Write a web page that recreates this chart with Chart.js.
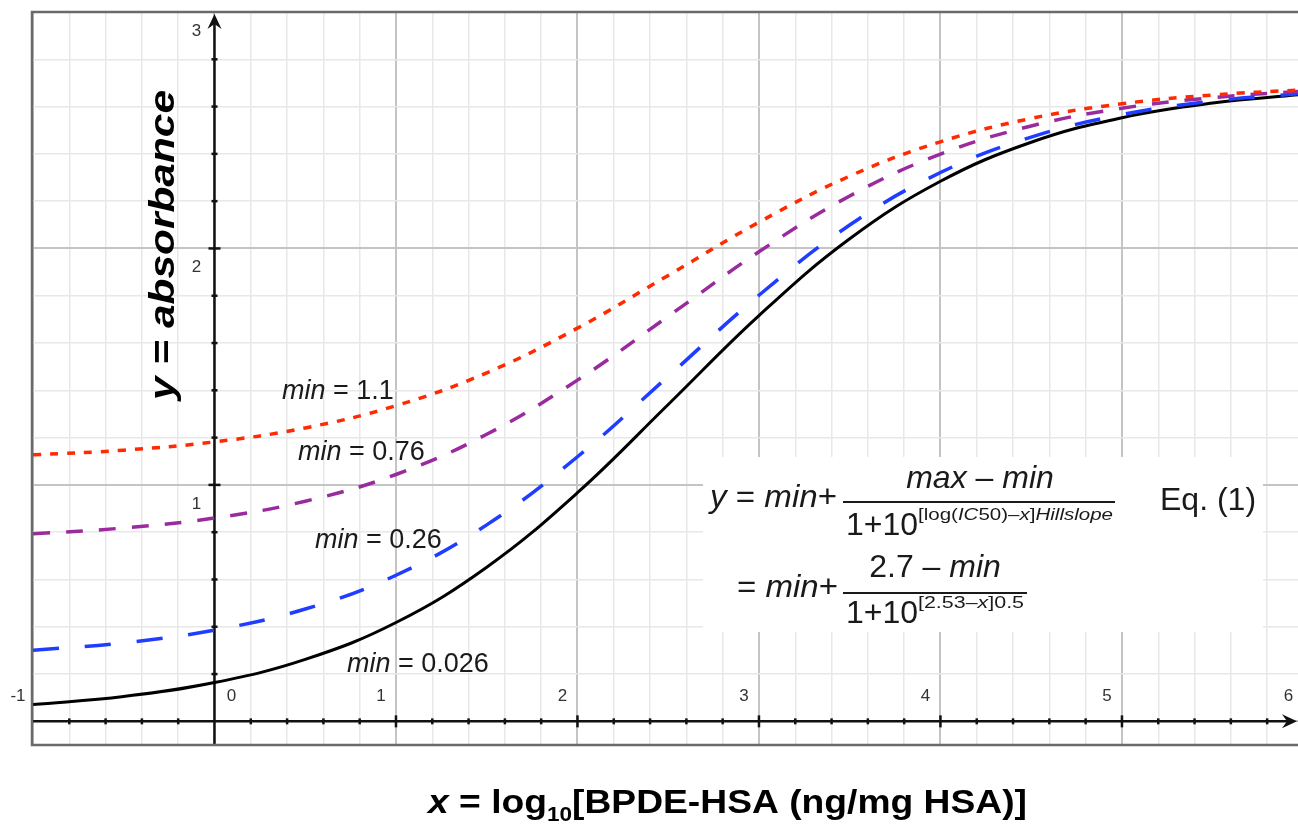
<!DOCTYPE html>
<html>
<head>
<meta charset="utf-8">
<script src="https://cdn.jsdelivr.net/npm/chart.js@4.4.1/dist/chart.umd.min.js"></script>
<style>
  html, body { margin: 0; padding: 0; background: #fff; }
</style>
</head>
<body>
<canvas id="chart" width="1298" height="825"></canvas>
<script>
// x = log10[BPDE-HSA], sampled every half unit
const xValues = [-1, -0.5, 0, 0.5, 1, 1.5, 2, 2.5, 3, 3.5, 4, 4.5, 5, 5.5, 6];
// absorbance
const yMin110 = [1.127, 1.147, 1.182, 1.241, 1.335, 1.474, 1.663, 1.886, 2.111, 2.306, 2.451, 2.550, 2.612, 2.649, 2.671];
const yMin076 = [0.793, 0.818, 0.860, 0.931, 1.044, 1.214, 1.443, 1.713, 1.986, 2.222, 2.399, 2.518, 2.593, 2.638, 2.665];
const yMin026 = [0.301, 0.332, 0.386, 0.475, 0.618, 0.831, 1.119, 1.459, 1.802, 2.099, 2.321, 2.471, 2.566, 2.623, 2.656];
const yMin0026 = [0.071, 0.105, 0.164, 0.262, 0.418, 0.652, 0.967, 1.340, 1.716, 2.041, 2.284, 2.449, 2.553, 2.615, 2.652];
const curveLabels = ['1.1', '0.76', '0.26', '0.026'];
const xTickLabels = ['-1', '0', '1', '2', '3', '4', '5', '6'];
const yTickLabels = ['1', '2', '3'];

const FONT = "'Liberation Sans', Arial, sans-serif";

function isMajor(v) {
    return Math.abs(v - Math.round(v)) < 1e-6;
}

// draw a run of differently styled text pieces, optionally stretched to a width
function richText(ctx, parts, x, y, opts) {
    opts = opts || {};
    let total = 0;
    parts.forEach(p => { ctx.font = p[1]; total += ctx.measureText(p[0]).width; });
    const sx = opts.width ? opts.width / total : 1;
    ctx.save();
    ctx.translate(x, y);
    if (opts.rotate) ctx.rotate(opts.rotate);
    ctx.scale(sx, 1);
    let cx = opts.align === 'center' ? -total / 2 : 0;
    ctx.textAlign = 'left';
    ctx.textBaseline = 'alphabetic';
    parts.forEach(p => {
        ctx.font = p[1];
        ctx.fillText(p[0], cx, p[2] || 0);
        cx += ctx.measureText(p[0]).width;
    });
    ctx.restore();
}

function series(ys) {
    return xValues.map((x, i) => ({ x: x, y: ys[i] }));
}

// white box behind the equation, axes with arrows and tick marks
const backPlugin = {
    id: 'back',
    beforeDatasetsDraw(chart) {
        const ctx = chart.ctx;
        const xs = chart.scales.x, ys = chart.scales.y;
        const ox = xs.getPixelForValue(0), oy = ys.getPixelForValue(0);
        const area = chart.chartArea;
        ctx.save();
        ctx.fillStyle = '#fff';
        ctx.fillRect(703, 457, 560, 175);

        ctx.strokeStyle = '#111';
        ctx.fillStyle = '#111';
        ctx.lineWidth = 2.5;
        ctx.beginPath();
        ctx.moveTo(area.left, oy);
        ctx.lineTo(area.right - 6, oy);
        ctx.moveTo(ox, area.bottom);
        ctx.lineTo(ox, area.top + 8);
        ctx.stroke();

        // arrow heads
        ctx.beginPath();
        ctx.moveTo(area.right - 1, oy);
        ctx.lineTo(area.right - 16, oy - 7);
        ctx.lineTo(area.right - 11, oy);
        ctx.lineTo(area.right - 16, oy + 7);
        ctx.closePath();
        ctx.fill();
        ctx.beginPath();
        ctx.moveTo(ox, area.top + 2);
        ctx.lineTo(ox - 7, area.top + 17);
        ctx.lineTo(ox, area.top + 12);
        ctx.lineTo(ox + 7, area.top + 17);
        ctx.closePath();
        ctx.fill();

        // tick marks
        ctx.lineWidth = 2.5;
        xs.ticks.forEach(t => {
            if (Math.abs(t.value) < 1e-6 || t.value < -0.99) return;
            const px = xs.getPixelForValue(t.value);
            const h = isMajor(t.value) ? 6 : 3;
            ctx.beginPath();
            ctx.moveTo(px, oy - h);
            ctx.lineTo(px, oy + h);
            ctx.stroke();
        });
        ys.ticks.forEach(t => {
            if (Math.abs(t.value) < 1e-6 || t.value > 2.99) return;
            const py = ys.getPixelForValue(t.value);
            const w = isMajor(t.value) ? 6 : 3;
            ctx.beginPath();
            ctx.moveTo(ox - w, py);
            ctx.lineTo(ox + w, py);
            ctx.stroke();
        });
        ctx.restore();
    },
    afterDatasetsDraw(chart) {
        const ctx = chart.ctx;
        const xs = chart.scales.x, ys = chart.scales.y;
        const area = chart.chartArea;
        const ox = xs.getPixelForValue(0), oy = ys.getPixelForValue(0);
        ctx.save();

        // frame
        ctx.strokeStyle = '#6a6a6a';
        ctx.lineWidth = 2.5;
        ctx.beginPath();
        ctx.moveTo(area.right, area.top);
        ctx.lineTo(area.left - 1, area.top);
        ctx.lineTo(area.left - 1, area.bottom);
        ctx.lineTo(area.right, area.bottom);
        ctx.stroke();

        // tick labels
        ctx.fillStyle = '#333';
        ctx.textAlign = 'center';
        ctx.font = '17px ' + FONT;
        xTickLabels.forEach(l => {
            const v = Number(l);
            const px = xs.getPixelForValue(v);
            ctx.fillText(l, v === 0 ? px + 17 : px - 15, oy - 20);
        });
        yTickLabels.forEach(l => {
            const py = ys.getPixelForValue(Number(l));
            ctx.fillText(l, ox - 18, py + 24);
        });

        // curve labels
        ctx.fillStyle = '#1a1a1a';
        const I27 = 'italic 27px ' + FONT, N27 = '27px ' + FONT;
        const labelPos = [[282, 399], [298, 460], [315, 548], [347, 672]];
        curveLabels.forEach((l, i) => {
            richText(ctx, [['min', I27], [' = ' + l, N27]], labelPos[i][0], labelPos[i][1]);
        });

        // equation (1)
        const I32 = 'italic 32px ' + FONT, N32 = '32px ' + FONT;
        const I16 = 'italic 16px ' + FONT, N16 = '16px ' + FONT;
        ctx.fillStyle = '#1a1a1a';
        richText(ctx, [['y', I32], [' = ', N32], ['min', I32], ['+', N32]], 710, 507, { width: 127 });
        ctx.fillRect(843, 501, 272, 2);
        richText(ctx, [['max', I32], [' \u2013 ', N32], ['min', I32]], 980, 488, { align: 'center' });
        richText(ctx, [['1+10', N32]], 846, 535);
        richText(ctx, [['[log(', N16], ['IC', I16], ['50)\u2013', N16], ['x', I16], [']', N16], ['Hillslope', I16]], 918, 520, { width: 195 });
        richText(ctx, [['Eq. (1)', N32]], 1160, 510);

        richText(ctx, [['= ', N32], ['min', I32], ['+', N32]], 737, 597, { width: 101 });
        ctx.fillRect(843, 592, 184, 2);
        richText(ctx, [['2.7 \u2013 ', N32], ['min', I32]], 935, 577, { align: 'center' });
        richText(ctx, [['1+10', N32]], 846, 623);
        richText(ctx, [['[2.53\u2013', N16], ['x', I16], [']0.5', N16]], 918, 608, { width: 106 });

        // axis titles
        ctx.fillStyle = '#000';
        richText(ctx, [['y = absorbance', 'italic bold 35px ' + FONT]], 174, 245,
            { align: 'center', rotate: -Math.PI / 2, width: 310 });
        richText(ctx, [['x', 'italic bold 33px ' + FONT], [' = log', 'bold 33px ' + FONT],
            ['10', 'bold 20px ' + FONT, 8], ['[BPDE-HSA (ng/mg HSA)]', 'bold 33px ' + FONT]],
            428, 813, { width: 599 });
        ctx.restore();
    }
};

function lineSet(ys, color, dash, width) {
    return {
        data: series(ys),
        borderColor: color,
        borderWidth: width,
        borderDash: dash,
        pointRadius: 0,
        fill: false,
        tension: 0.4
    };
}

const gridOpts = {
    color: c => isMajor(c.tick.value) ? '#c4c4c4' : '#e8e8e8',
    lineWidth: c => isMajor(c.tick.value) ? 2 : 1.5,
    drawTicks: false
};

new Chart(document.getElementById('chart'), {
    type: 'line',
    data: {
        datasets: [
            lineSet(yMin110, '#ff2a00', [8, 9], 3.5),
            lineSet(yMin076, '#9a2b9e', [17, 16], 3.5),
            lineSet(yMin026, '#1f3dff', [26, 26], 3.5),
            lineSet(yMin0026, '#000000', [], 3)
        ]
    },
    options: {
        responsive: false,
        animation: false,
        devicePixelRatio: 1,
        layout: { padding: { left: 33, top: 12, right: 0, bottom: 80 } },
        plugins: { legend: { display: false }, tooltip: { enabled: false } },
        scales: {
            x: {
                type: 'linear', min: -1, max: 5.97,
                ticks: { stepSize: 0.2, display: false, includeBounds: false },
                grid: gridOpts,
                border: { display: false },
                afterFit: s => { s.height = 0; }
            },
            y: {
                type: 'linear', min: -0.1, max: 3,
                ticks: { stepSize: 0.2, display: false, includeBounds: false },
                grid: gridOpts,
                border: { display: false },
                afterFit: s => { s.width = 0; }
            }
        }
    },
    plugins: [backPlugin]
});
</script>
</body>
</html>
